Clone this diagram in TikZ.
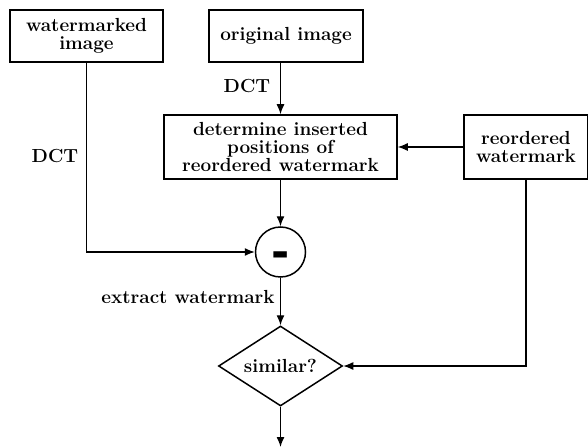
\documentclass[tikz,border=0pt]{standalone}
\usepackage{fontspec}
\newfontfamily\minusfont{DejaVu Sans}
\usetikzlibrary{arrows.meta,shapes.geometric}
\tikzset{
	box/.style = {draw, line width = 1.5pt, inner sep = 0pt, align = center},
	flow/.style = {line width = 1.3pt, -{Latex[length = 10bp, width = 8bp]}},
}
\begin{document}
\begin{tikzpicture}[x = 1bp, y = -1bp, font = \fontsize{19}{18.5}\selectfont\bfseries]
		\useasboundingbox (0,0) rectangle (588,448);
		\node [box, minimum width = 153bp, minimum height = 52bp](wm) at (86.5,36) {watermarked\\image};
		\node [box, minimum width = 154bp, minimum height = 52bp](orig) at (286,36) {original image};
		\node [box, minimum width = 233bp, minimum height = 64bp](det) at (280.5,147) {determine inserted\\positions of\\reordered watermark};
		\node [box, minimum width = 124bp, minimum height = 64bp](reo) at (526,147) {reordered\\watermark};
		\node [draw, circle, line width = 1.5pt, inner sep = 0pt, minimum size = 50bp](sub) at (280.5,252) {};
		\node [font = \fontsize{44}{44}\minusfont\bfseries, inner sep = 0pt](minus) at (280.5,260) {-};
		\node [draw, diamond, line width = 1.5pt, inner sep = 0pt, shape aspect = 1.55, minimum width = 124bp, minimum height = 80bp](sim) at (280.5,366) {similar?};
		\node [](dct_orig) at (247,86) {DCT};
		\node [](dct_wm) at (55,156) {DCT};
		\node [](extract) at (188,297) {extract watermark};
		\coordinate (out) at (280.5,447);
		\draw [flow] (orig.south -| det.north) -- (det.north);
		\draw [flow] (reo.west) -- (det.east);
		\draw [flow] (det.south) -- (sub.north);
		\draw [flow] (wm.south) |- (sub.west);
		\draw [flow] (sub.south) -- (sim.north);
		\draw [flow] (reo.south) |- (sim.east);
		\draw [flow] (sim.south) -- (out);
\end{tikzpicture}
\end{document}
